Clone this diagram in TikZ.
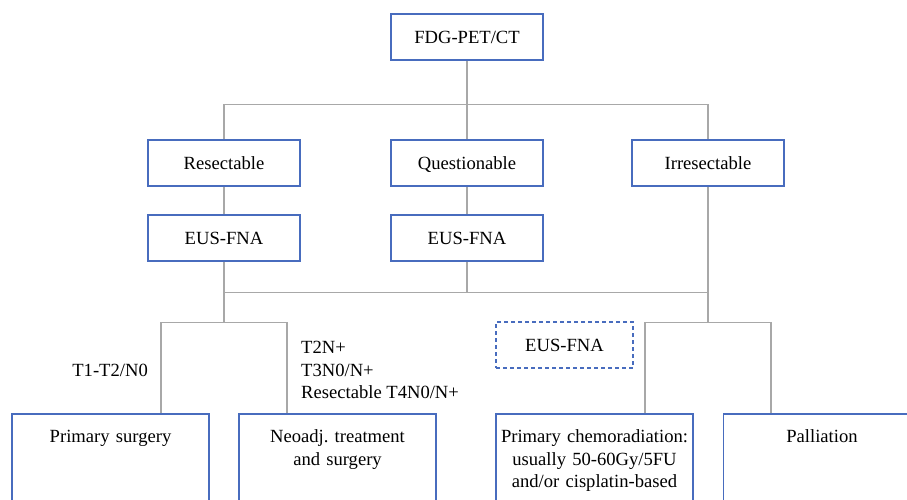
\documentclass[tikz,border=0pt]{standalone}
\usepackage{fontspec}
\setmainfont{Liberation Serif}
\usepackage{tikz}
\usetikzlibrary{positioning}
\usetikzlibrary{calc}
\usetikzlibrary{backgrounds}
\definecolor{bordbleu}{RGB}{72,108,190}
\definecolor{traitgris}{RGB}{168,168,168}
\tikzstyle{etape}=[rectangle,draw=bordbleu,line width=1.6pt,fill=white,
minimum width=152pt,minimum height=46pt,inner sep=0pt,text height=15pt,text depth=2pt]
\tikzstyle{option}=[rectangle,draw=bordbleu,line width=1.6pt,dash pattern=on 4pt off 3pt,
minimum width=137pt,minimum height=46pt,inner sep=0pt,text height=15pt,text depth=2pt]
\tikzstyle{traitement}=[rectangle,draw=bordbleu,line width=1.6pt,fill=white,anchor=north,
minimum width=197pt,text width=190pt,align=center,inner xsep=3.5pt,inner ysep=16pt,text depth=90pt]
\tikzstyle{critere}=[inner sep=0pt,align=left]
\tikzstyle{liaison}=[draw=traitgris,line width=1.7pt]

\begin{document}
\frenchspacing
\begin{tikzpicture}[x=1pt,y=-1pt,font=\fontsize{18.6}{22.5}\selectfont]
\useasboundingbox (0,0) rectangle (907,499);
\node[etape] (a) at (467,37) {FDG-PET/CT};
\node[etape] (b) at (224,163) {Resectable};
\node[etape] (c) at (467,163) {Questionable};
\node[etape] (d) at (708,163) {Irresectable};
\node[etape] (e) at (224,238) {EUS-FNA};
\node[etape] (f) at (467,238) {EUS-FNA};
\node[option] (g) at (564.5,345) {EUS-FNA};
\node[traitement] (h) at (110.5,413) {Primary surgery};
\node[traitement] (i) at (337.5,413) {Neoadj. treatment\\and surgery};
\node[traitement] (j) at (594.5,413) {Primary chemoradiation:\\usually 50-60Gy/5FU\\and/or cisplatin-based};
\node[traitement] (k) at (822,413) {Palliation};
\node[critere,anchor=east] (l) at (148,370) {T1-T2/N0};
\node[critere,anchor=west] (m) at (301,370) {T2N+\\T3N0/N+\\Resectable T4N0/N+};
\coordinate (n1) at (467,104.5);
\coordinate (n2) at (467,292.5);
\coordinate (n3) at (224,322.5);
\coordinate (n4) at (708,322.5);
%Placementdesliaisons
\begin{scope}[on background layer]
\draw[liaison] (a) -- (n1) -- (c);
\draw[liaison] (b) |- (n1) -| (d);
\draw[liaison] (b) -- (e);
\draw[liaison] (c) -- (f);
\draw[liaison] (e) |- (n2) -| (d);
\draw[liaison] (f) -- (n2);
\draw[liaison] (e) -- (n3);
\draw[liaison] (d) -- (n4);
\draw[liaison] ([xshift=50.5pt]h.north) |- (n3) -| ([xshift=-50.5pt]i.north);
\draw[liaison] ([xshift=50.5pt]j.north) |- (n4) -| ([xshift=-51pt]k.north);
\end{scope}
\end{tikzpicture}
\end{document}
